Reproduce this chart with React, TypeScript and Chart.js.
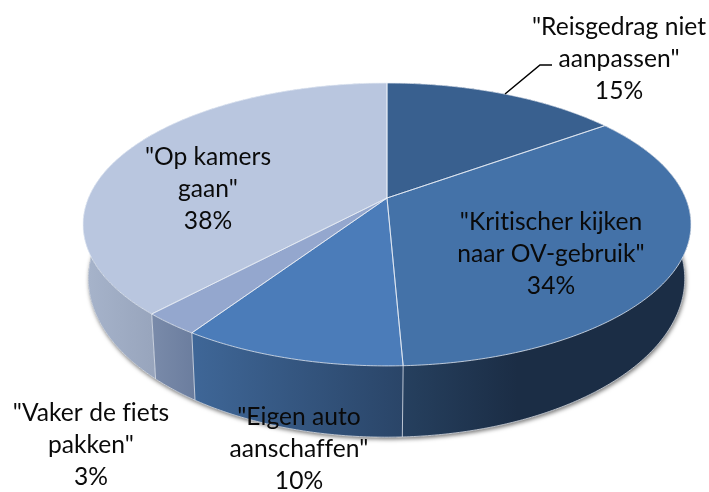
import React, { useEffect, useRef } from "react";
import { Chart, registerables } from "chart.js";

Chart.register(...registerables);

const categories = [
  ['"Reisgedrag niet', 'aanpassen"'],
  ['"Kritischer kijken', 'naar OV-gebruik"'],
  ['"Eigen auto', 'aanschaffen"'],
  ['"Vaker de fiets', 'pakken"'],
  ['"Op kamers', 'gaan"'],
];
const values = [15, 34.3, 10, 2.6, 38.1];
const percentLabels = ["15%", "34%", "10%", "3%", "38%"];
const topColors = ["#39608F", "#4472A8", "#4B7CB9", "#94A7CE", "#B9C6DF"];

// presentation only
const labelAnchors = [
  [619, 27],
  [551, 222],
  [299, 417],
  [91, 413],
  [208, 157],
];
const LINE_H = 32;
const P = 0.187;
const TOP = { cx: 387, cy: 198, a: 298.6, b: 136.5 };
const BOTTOM = { cx: 386.5, cy: 249, a: 293, b: 153 };

type Plane = { cx: number; cy: number; a: number; b: number };
const project = (pl: Plane, ang: number): [number, number] => {
  const u = Math.cos(ang);
  const v = Math.sin(ang);
  const w = 1 - P * v;
  return [pl.cx + (pl.a * u) / w, pl.cy + (pl.b * v) / w];
};
const rim = (pl: Plane, a0: number, a1: number) => {
  const n = Math.max(2, Math.ceil(Math.abs(a1 - a0) / 0.01));
  const pts: [number, number][] = [];
  for (let i = 0; i <= n; i++) pts.push(project(pl, a0 + ((a1 - a0) * i) / n));
  return pts;
};
const trace = (ctx: CanvasRenderingContext2D, pts: [number, number][]) => {
  pts.forEach((p, i) => (i ? ctx.lineTo(p[0], p[1]) : ctx.moveTo(p[0], p[1])));
};
const trace2 = (ctx: CanvasRenderingContext2D, pts: [number, number][]) => {
  pts.forEach((p) => ctx.lineTo(p[0], p[1]));
};

const wallStyles: Record<number, { from: number; to: number; stops: [number, string][] }> = {
  4: { from: 88, to: 157, stops: [[0, "#A6B3CA"], [1, "#97A4BC"]] },
  0: { from: 560, to: 690, stops: [[0, "#1B2D45"], [1, "#1B2D45"]] },
  1: { from: 402, to: 690, stops: [[0, "#26405F"], [0.4, "#1B2D45"], [1, "#1B2D45"]] },
  3: { from: 151, to: 195, stops: [[0, "#7A8BAA"], [1, "#6B7D9E"]] },
  2: { from: 190, to: 402, stops: [[0, "#3F6798"], [1, "#2A4568"]] },
};
const wallOrder = [4, 0, 1, 3, 2];

const pie3d = {
  id: "pie3d",
  beforeDatasetsDraw(chart: any) {
    const ctx: CanvasRenderingContext2D = chart.ctx;
    const arcs = chart.getDatasetMeta(0).data;
    const spans = arcs.map((el: any) => el.getProps(["startAngle", "endAngle"], true));

    // drop shadow under the wall
    ctx.save();
    ctx.shadowColor = "rgba(0,0,0,0.55)";
    ctx.shadowBlur = 4;
    ctx.shadowOffsetY = 2;
    ctx.shadowOffsetX = 1;
    ctx.fillStyle = "#1B2D45";
    ctx.beginPath();
    trace(ctx, rim(BOTTOM, 0, Math.PI * 2));
    ctx.closePath();
    ctx.fill();
    ctx.restore();

    wallOrder.forEach((i) => {
      const { startAngle, endAngle } = spans[i];
      const w = wallStyles[i];
      const g = ctx.createLinearGradient(w.from, 0, w.to, 0);
      w.stops.forEach(([o, c]) => g.addColorStop(o, c));
      ctx.beginPath();
      trace(ctx, [...rim(TOP, startAngle, endAngle), ...rim(BOTTOM, endAngle, startAngle)]);
      ctx.closePath();
      ctx.fillStyle = g;
      ctx.fill();
    });

    // light seams on the wall
    ctx.strokeStyle = "rgba(225,230,240,0.8)";
    ctx.lineWidth = 1;
    const frontEdges = [spans[1].endAngle, spans[2].endAngle, spans[3].endAngle];
    frontEdges.forEach((a) => {
      const p = project(TOP, a);
      const q = project(BOTTOM, a);
      ctx.beginPath();
      ctx.moveTo(p[0], p[1]);
      ctx.lineTo(q[0], q[1]);
      ctx.stroke();
    });
    ctx.strokeStyle = "rgba(230,232,238,0.75)";
    ctx.beginPath();
    trace(ctx, rim(BOTTOM, -0.02, Math.PI + 0.05));
    ctx.stroke();

    // top faces
    arcs.forEach((el: any, i: number) => {
      const { startAngle, endAngle } = spans[i];
      ctx.beginPath();
      ctx.moveTo(TOP.cx, TOP.cy);
      trace2(ctx, rim(TOP, startAngle, endAngle));
      ctx.closePath();
      ctx.fillStyle = el.options.backgroundColor;
      ctx.fill();
    });
    arcs.forEach((_: any, i: number) => {
      const { startAngle, endAngle } = spans[i];
      ctx.beginPath();
      ctx.moveTo(TOP.cx, TOP.cy);
      trace2(ctx, rim(TOP, startAngle, endAngle));
      ctx.closePath();
      ctx.strokeStyle = "rgba(235,240,248,0.75)";
      ctx.lineWidth = 1;
      ctx.stroke();
    });
    return false;
  },
  afterDraw(chart: any) {
    const ctx: CanvasRenderingContext2D = chart.ctx;
    ctx.save();
    // leader line
    ctx.strokeStyle = "#000";
    ctx.lineWidth = 1.5;
    ctx.beginPath();
    ctx.moveTo(505, 94);
    ctx.lineTo(540, 65);
    ctx.lineTo(552, 65);
    ctx.stroke();

    ctx.fillStyle = "#0A0A0A";
    ctx.font = '24.6px Lato, "Open Sans", sans-serif';
    (ctx as any).letterSpacing = "0.01px";
    ctx.textAlign = "center";
    ctx.textBaseline = "middle";
    categories.forEach((lines, i) => {
      const [x, y] = labelAnchors[i];
      [...lines, percentLabels[i]].forEach((t, k) => ctx.fillText(t, x, y + k * LINE_H));
    });
    ctx.restore();
  },
};

export default function App() {
  const ref = useRef<HTMLCanvasElement>(null);
  useEffect(() => {
    document.body.style.margin = "0";
    const chart = new Chart(ref.current!, {
      type: "pie",
      data: {
        labels: categories.map((c) => c.join(" ")),
        datasets: [{ data: values, backgroundColor: topColors, borderWidth: 0 }],
      },
      options: {
        responsive: false,
        animation: false,
        plugins: { legend: { display: false }, tooltip: { enabled: false } },
      },
      plugins: [pie3d],
    } as any);
    return () => chart.destroy();
  }, []);
  return <canvas ref={ref} width={709} height={492} style={{ display: "block", background: "#fff" }} />;
}
